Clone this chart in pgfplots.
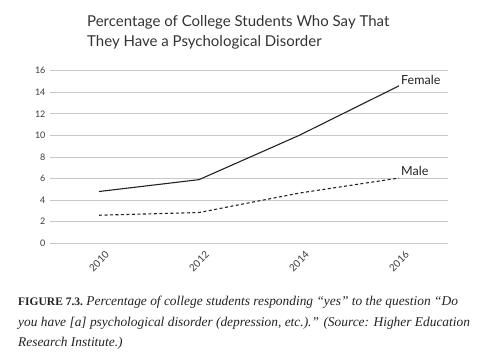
\documentclass[border=0pt]{standalone}
\usepackage{fontspec}
\setmainfont{Lato}
\newfontfamily\capfont{Liberation Serif}
\usepackage{pgfplots}
\pgfplotsset{compat=1.18}
\definecolor{gridgray}{HTML}{C8C8C8}
\definecolor{ticktext}{HTML}{3A3A3A}
\definecolor{linecol}{HTML}{222222}
\definecolor{titlecol}{HTML}{333333}
\begin{document}
\begin{tikzpicture}[x=1pt,y=1pt]
\useasboundingbox (0,0) rectangle (491,357);
\begin{axis}[
  at={(50,105.5)}, anchor=south west,
  scale only axis, width=398pt, height=172.5pt,
  xmin=-0.49, xmax=3.49, ymin=0, ymax=16,
  xtick={0,1,2,3}, xticklabels={2010,2012,2014,2016},
  ytick={0,2,...,16},
  ymajorgrids, grid style={gridgray, line width=1pt},
  axis line style={draw=none}, major tick length=0pt,
  tick label style={text=ticktext},
  yticklabel style={font=\fontsize{9}{10}\selectfont, xshift=-1pt},
  /pgf/number format/assume math mode=true,
  xticklabel style={font=\fontsize{10}{11}\selectfont, rotate=45, anchor=north east, inner sep=0pt, yshift=-9pt, xshift=-1pt},
  clip=false,
]
\addplot[linecol, line width=1.1pt, sharp plot] coordinates {(0,4.8) (1,5.9) (2,10.0) (3,14.6)};
\addplot[linecol, line width=1.1pt, dash pattern=on 3pt off 2.5pt] coordinates {(0,2.6) (1,2.85) (2,4.65) (3,6.05)};
\node[anchor=base west, inner sep=0pt, font=\fontsize{12.5}{13}\selectfont, text=linecol] at (axis cs:3.02,14.73) {Female};
\node[anchor=base west, inner sep=0pt, font=\fontsize{12.5}{13}\selectfont, text=linecol] at (axis cs:3.02,6.26) {Male};
\end{axis}
\begin{scope}[every node/.style={anchor=base west, inner sep=0pt, text=titlecol, font=\fontsize{15}{16}\selectfont}]
\node at (87,330) {Percentage of College Students Who Say That};
\node at (87,310) {They Have a Psychological Disorder};
\end{scope}
\begin{scope}[every node/.style={anchor=base west, inner sep=0pt, text=linecol, font=\capfont\fontsize{13.4}{14}\selectfont}]
\node at (18,52) {{\bfseries\fontsize{11.5}{12}\selectfont FIGURE 7.3.}\ \itshape Percentage of college students responding “yes” to the question “Do};
\node at (18,31) {\itshape you have [a] psychological disorder (depression, etc.).” (Source: Higher Education};
\node at (18,10.3) {\itshape Research Institute.)};
\end{scope}
\end{tikzpicture}
\end{document}
